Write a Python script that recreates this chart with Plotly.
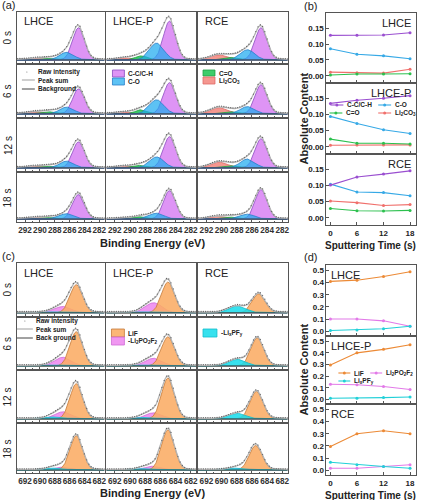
import numpy as np
import plotly.graph_objects as go

W, H = 421, 500
FONT = "Arial, Liberation Sans, sans-serif"

samples = ["LHCE", "LHCE-P", "RCE"]
times = [0, 6, 12, 18]
time_labels = ["0 s", "6 s", "12 s", "18 s"]

# (b) absolute content, C 1s components  [sample][time]
cc_content = [[0.127, 0.127, 0.128, 0.135], [0.134, 0.144, 0.150, 0.158], [0.101, 0.126, 0.135, 0.145]]
co_content = [[0.085, 0.068, 0.063, 0.054], [0.094, 0.072, 0.053, 0.041], [0.104, 0.080, 0.078, 0.068]]
cdo_content = [[0.003, 0.006, 0.006, 0.007], [0.024, 0.011, 0.011, 0.009], [0.029, 0.022, 0.021, 0.023]]
li2co3_content = [[0.012, 0.010, 0.009, 0.021], [0.005, 0.006, 0.006, 0.006], [0.052, 0.047, 0.038, 0.041]]

# (d) absolute content, F 1s components
lif_content = [[0.41, 0.42, 0.45, 0.49], [0.295, 0.40, 0.43, 0.47], [0.195, 0.30, 0.325, 0.30]]
lipof_content = [[0.10, 0.10, 0.085, 0.04], [0.13, 0.125, 0.11, 0.085], [0.015, 0.015, 0.03, 0.045]]
lipf_content = [[0.005, 0.01, 0.02, 0.04], [0.01, 0.01, 0.015, 0.02], [0.065, 0.045, 0.03, 0.015]]

# (a) C 1s fit peaks: centre (eV), width (eV), height  [sample][time]
c1s_center = {"cc": 284.8, "co": [286.4, 286.5, 286.6], "cdo": 288.5, "li2co3": 290.3}
c1s_sigma = {"cc": 0.8, "co": 0.95, "cdo": 0.8, "li2co3": 1.1}
cc_h = [[0.63, 0.48, 0.50, 0.50], [0.76, 0.60, 0.60, 0.58], [0.63, 0.56, 0.56, 0.60]]
co_h = [[0.15, 0.13, 0.13, 0.11], [0.33, 0.27, 0.21, 0.12], [0.20, 0.14, 0.17, 0.10]]
cdo_h = [[0.03, 0.04, 0.03, 0.03], [0.08, 0.08, 0.05, 0.05], [0.05, 0.04, 0.04, 0.04]]
li2co3_h = [[0.03, 0.04, 0.03, 0.03], [0.04, 0.03, 0.03, 0.02], [0.10, 0.12, 0.11, 0.06]]

# (c) F 1s fit peaks
lif_center = [[685.1, 685.1, 685.1, 685.1], [685.0, 685.0, 685.0, 685.0], [685.1, 685.3, 685.4, 685.5]]
f1s_center = {"pof": 686.9, "pf": 687.9}
f1s_sigma = {"lif": 0.85, "pof": 1.1, "pf": 1.1}
lif_h = [[0.53, 0.67, 0.69, 0.70], [0.58, 0.57, 0.80, 0.82], [0.36, 0.55, 0.54, 0.50]]
pof_h = [[0.12, 0.17, 0.14, 0.06], [0.19, 0.15, 0.12, 0.08], [0.0, 0.0, 0.0, 0.04]]
pf_h = [[0.02, 0.02, 0.04, 0.04], [0.02, 0.02, 0.03, 0.03], [0.13, 0.13, 0.11, 0.04]]

# colours
PURPLE, BLUE, GREEN, RED = "#9a4fd0", "#36a9e6", "#2cc04e", "#f0706c"
ORANGE, PINK, CYAN = "#ec8a36", "#e27ae8", "#22d0d8"

fig = go.Figure()
layout_axes = {}
naxes = [0]


def new_axes(x0, x1, y0, y1, xopts, yopts):
    naxes[0] += 1
    s = "" if naxes[0] == 1 else str(naxes[0])
    layout_axes["xaxis" + s] = dict(domain=[x0 / W, x1 / W], anchor="y" + s, **xopts)
    layout_axes["yaxis" + s] = dict(domain=[1 - y1 / H, 1 - y0 / H], anchor="x" + s, **yopts)
    return "x" + s, "y" + s


def gauss(x, c, s, h):
    return h * np.exp(-0.5 * ((x - c) / s) ** 2)


annotations = []
shapes = []


def text(x, y, t, size=8, bold=False, xanchor="left", angle=0, color="#222"):
    annotations.append(dict(x=x / W, y=1 - y / H, xref="paper", yref="paper", text=t,
                            showarrow=False, xanchor=xanchor, yanchor="middle", textangle=angle,
                            font=dict(family=FONT, size=size, color=color,
                                      weight="bold" if bold else "normal")))


def box(x0, y0, x1, y1, fill, line):
    shapes.append(dict(type="rect", xref="paper", yref="paper", x0=x0 / W, x1=x1 / W,
                       y0=1 - y1 / H, y1=1 - y0 / H, fillcolor=fill, line=dict(color=line, width=0.8)))


def seg(x0, x1, y, color, width=1.0):
    shapes.append(dict(type="line", xref="paper", yref="paper", x0=x0 / W, x1=x1 / W,
                       y0=1 - y / H, y1=1 - y / H, line=dict(color=color, width=width)))


col_px = [(17, 105), (107, 197), (199, 289)]
rows_a = [(12, 63), (65, 117), (119, 171), (173, 222)]
rows_c = [(263, 316), (318, 369), (371, 422), (424, 473)]
BASE = 0.06


def spectrum_axes(cx, ry, lo, hi, ticks, bottom):
    xo = dict(range=[hi, lo], showline=True, mirror=True, linecolor="#555", linewidth=1,
              ticks="inside", ticklen=2, tickcolor="#555", tickvals=ticks, showgrid=False,
              zeroline=False, showticklabels=bottom, tickangle=0,
              tickfont=dict(family=FONT, size=8.2, color="#333", weight="bold"),
              minor=dict(ticks="inside", ticklen=1.5, dtick=1, tickcolor="#555"))
    yo = dict(range=[0, 1], showline=True, mirror=True, linecolor="#555", linewidth=1,
              ticks="", showticklabels=False, showgrid=False, zeroline=False)
    return new_axes(cx[0], cx[1], ry[0], ry[1], xo, yo)


def draw_peaks(xa, ya, x, comps):
    total = np.full_like(x, BASE)
    for y, fill, line in comps:
        total = total + y
        fig.add_trace(go.Scatter(x=np.concatenate([x, x[::-1]]),
                                 y=np.concatenate([BASE + y, np.full_like(x, BASE)]),
                                 fill="toself", fillcolor=fill, mode="lines",
                                 line=dict(color=line, width=0.8), xaxis=xa, yaxis=ya,
                                 showlegend=False, hoverinfo="skip"))
    fig.add_trace(go.Scatter(x=x, y=np.full_like(x, BASE), mode="lines",
                             line=dict(color="#444", width=1), xaxis=xa, yaxis=ya,
                             showlegend=False, hoverinfo="skip"))
    fig.add_trace(go.Scatter(x=x, y=total + 0.012, mode="lines",
                             line=dict(color="#b5b5b5", width=1.3), xaxis=xa, yaxis=ya,
                             showlegend=False, hoverinfo="skip"))
    fig.add_trace(go.Scatter(x=x[::6], y=total[::6] + 0.025, mode="markers",
                             marker=dict(color="#666", size=1.3), xaxis=xa, yaxis=ya,
                             showlegend=False, hoverinfo="skip"))


# ---- (a) C 1s spectra
xc = np.arange(281.3, 293.15, 0.05)
for i, s in enumerate(samples):
    for j in range(4):
        xa, ya = spectrum_axes(col_px[i], rows_a[j], 281.3, 293.1, [292, 290, 288, 286, 284, 282], j == 3)
        draw_peaks(xa, ya, xc, [
            (gauss(xc, c1s_center["li2co3"], c1s_sigma["li2co3"], li2co3_h[i][j]), "rgba(244,140,132,0.9)", "#e06a66"),
            (gauss(xc, c1s_center["cdo"], c1s_sigma["cdo"], cdo_h[i][j]), "rgba(40,200,90,0.9)", "#1f9e44"),
            (gauss(xc, c1s_center["cc"], c1s_sigma["cc"], cc_h[i][j]), "rgba(220,142,244,0.95)", "#8a4cc0"),
            (gauss(xc, c1s_center["co"][i], c1s_sigma["co"], co_h[i][j]), "rgba(30,170,240,0.72)", "#2a7fc9"),
        ])
    text(col_px[i][0] + 5, 21, samples[i], size=11)

# ---- (c) F 1s spectra
xf = np.arange(681.3, 693.15, 0.05)
for i, s in enumerate(samples):
    for j in range(4):
        xa, ya = spectrum_axes(col_px[i], rows_c[j], 681.3, 693.1, [692, 690, 688, 686, 684, 682], j == 3)
        draw_peaks(xa, ya, xf, [
            (gauss(xf, f1s_center["pof"], f1s_sigma["pof"], pof_h[i][j]), "rgba(238,140,240,0.9)", "#cf6ad6"),
            (gauss(xf, lif_center[i][j], f1s_sigma["lif"], lif_h[i][j]), "rgba(250,172,100,0.88)", "#c47a38"),
            (gauss(xf, f1s_center["pf"], f1s_sigma["pf"], pf_h[i][j]), "rgba(20,220,235,0.85)", "#12bccc"),
        ])
    text(col_px[i][0] + 5, 273, samples[i], size=11)

for j in range(4):
    text(8, sum(rows_a[j]) / 2, time_labels[j], size=10, xanchor="center", angle=-90)
    text(8, sum(rows_c[j]) / 2, time_labels[j], size=10, xanchor="center", angle=-90)

text(153, 243, "Binding Energy (eV)", size=11, bold=True, xanchor="center")
text(153, 493, "Binding Energy (eV)", size=11, bold=True, xanchor="center")

# ---- (b) / (d) content vs sputtering time
rows_b = [(13, 83), (83, 154), (154, 225)]
rows_d = [(265, 336), (336, 404), (404, 475)]


def content_axes(ry, yr, dtick, fmt, bottom):
    xo = dict(range=[-0.9, 19.35], showline=True, mirror=True, linecolor="#555", linewidth=1,
              ticks="inside", ticklen=3, tickcolor="#555", tickvals=times, showgrid=False,
              zeroline=False, showticklabels=bottom,
              tickfont=dict(family=FONT, size=8, color="#222", weight="bold"))
    yo = dict(range=yr, showline=True, mirror=True, linecolor="#555", linewidth=1,
              ticks="inside", ticklen=3, tickcolor="#555", dtick=dtick, tick0=0, tickformat=fmt,
              showgrid=False, zeroline=False,
              tickfont=dict(family=FONT, size=8, color="#222", weight="bold"))
    return new_axes(328, 418, ry[0], ry[1], xo, yo)


def line_trace(xa, ya, vals, color):
    fig.add_trace(go.Scatter(x=times, y=vals, mode="lines+markers", xaxis=xa, yaxis=ya,
                             line=dict(color=color, width=1.1), marker=dict(color=color, size=3),
                             showlegend=False, hoverinfo="skip"))


for i in range(3):
    xa, ya = content_axes(rows_b[i], [-0.022, 0.197], 0.05, ".2f", i == 2)
    line_trace(xa, ya, li2co3_content[i], RED)
    line_trace(xa, ya, cdo_content[i], GREEN)
    line_trace(xa, ya, co_content[i], BLUE)
    line_trace(xa, ya, cc_content[i], PURPLE)
    text(415, rows_b[i][0] + 10, samples[i], size=11, xanchor="right")

    xa, ya = content_axes(rows_d[i], [-0.04, 0.545], 0.1, ".1f", i == 2)
    line_trace(xa, ya, lipof_content[i], PINK)
    line_trace(xa, ya, lipf_content[i], CYAN)
    line_trace(xa, ya, lif_content[i], ORANGE)
    text(331, rows_d[i][0] + 10, samples[i], size=11)

text(305, 119, "Absolute Content", size=11, bold=True, xanchor="center", angle=-90)
text(305, 370, "Absolute Content", size=11, bold=True, xanchor="center", angle=-90)
text(372, 245, "Sputtering Time (s)", size=10, bold=True, xanchor="center")
text(372, 495, "Sputtering Time (s)", size=10, bold=True, xanchor="center")

# panel letters
text(0, 5, "(a)", size=11)
text(303, 6, "(b)", size=11)
text(0, 256, "(c)", size=11)
text(303, 257, "(d)", size=11)

# ---- hand-drawn legends
LG = 6.5
# (a) legends
seg(22, 35, 80, "#b5b5b5", 1.3)
seg(22, 35, 89, "#444", 1)
shapes.append(dict(type="circle", xref="paper", yref="paper", x0=26.5 / W, x1=27.5 / W,
                   y0=1 - 72.5 / H, y1=1 - 71.5 / H, fillcolor="#666", line=dict(width=0)))
text(36, 72, "Raw intensity", size=LG, bold=True)
text(36, 80, "Peak sum", size=LG, bold=True)
text(36, 89, "Background", size=LG, bold=True)
box(113, 70, 125, 77, "rgba(220,142,244,0.95)", "#8a4cc0")
box(113, 78, 125, 85, "rgba(30,170,240,0.72)", "#2a7fc9")
text(127, 73.5, "C-C/C-H", size=LG, bold=True)
text(127, 81.5, "C-O", size=LG, bold=True)
box(204, 70, 216, 76, "rgba(40,200,90,0.9)", "#1f9e44")
box(204, 77, 216, 84, "rgba(244,140,132,0.9)", "#e06a66")
text(218, 73, "C=O", size=LG, bold=True)
text(218, 81, "Li<sub>2</sub>CO<sub>3</sub>", size=LG, bold=True)

# (c) legends
seg(17, 33, 329, "#b5b5b5", 1.3)
seg(17, 33, 338, "#444", 1)
shapes.append(dict(type="circle", xref="paper", yref="paper", x0=24.5 / W, x1=25.5 / W,
                   y0=1 - 321.5 / H, y1=1 - 320.5 / H, fillcolor="#666", line=dict(width=0)))
text(34, 321, "Raw intensity", size=LG, bold=True)
text(34, 329, "Peak sum", size=LG, bold=True)
text(34, 338, "Back ground", size=LG, bold=True)
box(112, 329, 125, 337, "rgba(250,172,100,0.88)", "#c47a38")
box(112, 337, 125, 345, "rgba(238,140,240,0.9)", "#cf6ad6")
text(127, 333, "LiF", size=LG, bold=True)
text(127, 341, "-Li<sub>2</sub>PO<sub>2</sub>F<sub>2</sub>", size=LG, bold=True)
box(204, 329, 218, 337, "rgba(20,220,235,0.85)", "#12bccc")
text(220, 333, "-Li<sub>x</sub>PF<sub>y</sub>", size=LG, bold=True)

# (b) legend in LHCE-P panel
for (x0, y, col, lab) in [(332, 105, PURPLE, "C-C/C-H"), (380, 105, BLUE, "C-O"),
                          (331, 113, GREEN, "C=O"), (380, 113, RED, "Li<sub>2</sub>CO<sub>3</sub>")]:
    seg(x0, x0 + 13, y, col, 1.1)
    shapes.append(dict(type="circle", xref="paper", yref="paper", x0=(x0 + 5) / W, x1=(x0 + 8) / W,
                       y0=1 - (y + 1.5) / H, y1=1 - (y - 1.5) / H, fillcolor=col, line=dict(width=0)))
    text(x0 + 15, y, lab, size=LG, bold=True)

# (d) legend in LHCE-P panel
for (x0, y, col, lab) in [(340, 373, ORANGE, "LiF"), (372, 373, PINK, "Li<sub>2</sub>PO<sub>2</sub>F<sub>2</sub>"),
                          (340, 381, CYAN, "Li<sub>x</sub>PF<sub>y</sub>")]:
    seg(x0, x0 + 12, y, col, 1.1)
    shapes.append(dict(type="circle", xref="paper", yref="paper", x0=(x0 + 4.5) / W, x1=(x0 + 7.5) / W,
                       y0=1 - (y + 1.5) / H, y1=1 - (y - 1.5) / H, fillcolor=col, line=dict(width=0)))
    text(x0 + 14, y, lab, size=LG, bold=True)

fig.update_layout(width=W, height=H, margin=dict(l=0, r=0, t=0, b=0),
                  paper_bgcolor="white", plot_bgcolor="white", showlegend=False,
                  annotations=annotations, shapes=shapes, **layout_axes)
# the page's default body margin would push the 421x500 figure out of the window
fig.write_html("out.html", config={"displayModeBar": False},
               post_script="document.body.style.margin='0';")
